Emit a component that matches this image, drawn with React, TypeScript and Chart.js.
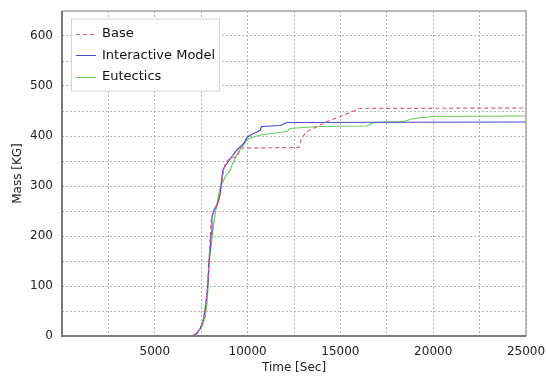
import React, { useEffect, useRef } from "react";
import { Chart, registerables } from "chart.js";

Chart.register(...registerables);

// ---- Data (Time [Sec], Mass [KG]) ----
const baseTime = [7000, 7250, 7450, 7600, 7700, 7780, 7850, 7920, 7980, 8040, 8190, 8400, 8530, 8600, 8700, 8800, 8900, 9070, 9460, 9610, 12750, 12930, 13200, 13700, 14280, 15000, 15530, 15980, 25000];
const baseMass = [0, 5, 15, 30, 50, 75, 100, 150, 195, 232, 250, 264, 285, 305, 330, 345, 350, 355, 359, 376, 377, 397, 409, 418, 429, 439, 447, 455, 456];

const interactiveTime = [7000, 7250, 7450, 7600, 7700, 7780, 7850, 7920, 7990, 8030, 8080, 8200, 8390, 8530, 8580, 8670, 8800, 9070, 9430, 9790, 9970, 10150, 10500, 10680, 10750, 11760, 12120, 25000];
const interactiveMass = [0, 5, 15, 30, 50, 75, 100, 150, 175, 205, 239, 253, 265, 285, 305, 332, 340, 355, 372, 385, 397, 402, 408, 412, 419, 421, 427, 428];

const eutecticsTime = [7000, 7270, 7540, 7720, 7810, 7870, 7940, 8030, 8130, 8260, 8350, 8490, 8620, 8800, 9070, 9160, 9350, 9520, 9790, 9970, 10300, 10680, 11500, 12120, 12300, 13000, 13900, 16430, 16790, 18400, 18950, 20030, 25000];
const eutecticsMass = [0, 5, 19, 39, 65, 99, 152, 179, 212, 245, 265, 292, 305, 319, 332, 342, 357, 369, 382, 393, 398, 402, 406, 409, 415, 417, 419, 420, 427, 429, 435, 439, 440];

const seriesLabels = ["Base", "Interactive Model", "Eutectics"];
const xTickStep = 2500;
const yTickStep = 50;

const toPoints = (xs: number[], ys: number[]) => xs.map((x, i) => ({ x, y: ys[i] }));

const FONT = "'DejaVu Sans', 'Lucida Sans', sans-serif";

const legendPlugin = {
  id: "insideLegend",
  afterDraw(chart: any) {
    const ctx = chart.ctx;
    const area = chart.chartArea;
    const bx = area.left + 9;
    const by = area.top + 7.5;
    const bw = 149;
    const bh = 73;
    ctx.save();
    ctx.fillStyle = "#ffffff";
    ctx.fillRect(bx, by, bw, bh);
    ctx.strokeStyle = "#d4d4d4";
    ctx.lineWidth = 1;
    ctx.strokeRect(bx + 0.5, by + 0.5, bw - 1, bh - 1);
    ctx.font = `13px ${FONT}`;
    ctx.textBaseline = "middle";
    chart.data.datasets.forEach((ds: any, i: number) => {
      const yy = by + 15 + i * 21.7;
      ctx.strokeStyle = ds.borderColor;
      ctx.lineWidth = 1;
      ctx.setLineDash(ds.borderDash || []);
      ctx.beginPath();
      ctx.moveTo(bx + 5, Math.round(yy) + 0.5);
      ctx.lineTo(bx + 25, Math.round(yy) + 0.5);
      ctx.stroke();
      ctx.setLineDash([]);
      ctx.fillStyle = "#111111";
      ctx.fillText(ds.label, bx + 31, yy);
    });
    ctx.restore();
  },
};

const borderPlugin = {
  id: "plotBorder",
  afterDatasetsDraw(chart: any) {
    const ctx = chart.ctx;
    const a = chart.chartArea;
    ctx.save();
    ctx.strokeStyle = "#a8a8a8";
    ctx.lineWidth = 1.5;
    ctx.beginPath();
    ctx.moveTo(a.left, a.top);
    ctx.lineTo(a.right, a.top);
    ctx.lineTo(a.right, a.bottom);
    ctx.stroke();
    ctx.strokeStyle = "#7a7a7a";
    ctx.lineWidth = 2;
    ctx.beginPath();
    ctx.moveTo(a.left, a.top);
    ctx.lineTo(a.left, a.bottom);
    ctx.lineTo(a.right, a.bottom);
    ctx.stroke();
    ctx.restore();
  },
};

export default function App() {
  const canvasRef = useRef<HTMLCanvasElement | null>(null);

  useEffect(() => {
    document.body.style.margin = "0";
    const canvas = canvasRef.current;
    if (!canvas) return;
    const chart = new Chart(canvas, {
      type: "line",
      data: {
        datasets: [
          {
            label: seriesLabels[0],
            data: toPoints(baseTime, baseMass),
            borderColor: "#d9607f",
            borderWidth: 1.2,
            borderDash: [4, 3],
            pointRadius: 0,
            tension: 0,
            fill: false,
          },
          {
            label: seriesLabels[1],
            data: toPoints(interactiveTime, interactiveMass),
            borderColor: "#4848c8",
            borderWidth: 1.2,
            pointRadius: 0,
            tension: 0,
            fill: false,
          },
          {
            label: seriesLabels[2],
            data: toPoints(eutecticsTime, eutecticsMass),
            borderColor: "#6ccc5c",
            borderWidth: 1.2,
            pointRadius: 0,
            tension: 0,
            fill: false,
          },
        ],
      },
      options: {
        responsive: false,
        animation: false,
        layout: { padding: 0 },
        plugins: {
          legend: { display: false },
          tooltip: { enabled: false },
        },
        scales: {
          x: {
            type: "linear",
            min: 0,
            max: 25000,
            afterFit: (scale: any) => {
              scale.height = 40;
              scale.paddingLeft = 0;
              scale.paddingRight = 20;
            },
            border: { display: false, dash: [2, 2] },
            grid: {
              color: "#b4b4b4",
              lineWidth: 1,
              drawTicks: false,
            },
            ticks: {
              stepSize: xTickStep,
              autoSkip: false,
              maxRotation: 0,
              padding: 9,
              color: "#222222",
              font: { family: FONT, size: 12 },
              callback: (v: any) => (v > 0 && v % 5000 === 0 ? String(v) : ""),
            },
            title: {
              display: true,
              text: "Time [Sec]",
              color: "#222222",
              font: { family: FONT, size: 12 },
              padding: { top: 0, bottom: 1 },
            },
          },
          y: {
            type: "linear",
            min: 0,
            max: 650,
            afterFit: (scale: any) => {
              scale.width = 62;
              scale.paddingTop = 11;
              scale.paddingBottom = 0;
            },
            border: { display: false, dash: [2, 2] },
            grid: {
              color: "#b4b4b4",
              lineWidth: 1,
              drawTicks: false,
            },
            ticks: {
              stepSize: yTickStep,
              autoSkip: false,
              padding: 9,
              color: "#222222",
              font: { family: FONT, size: 12 },
              callback: (v: any) => (v % 100 === 0 && v <= 600 ? String(v) : ""),
            },
            title: {
              display: true,
              text: "Mass [KG]",
              color: "#222222",
              font: { family: FONT, size: 12 },
              padding: { top: 11, bottom: 0 },
            },
          },
        },
      },
      plugins: [borderPlugin, legendPlugin],
    } as any);
    return () => chart.destroy();
  }, []);

  return (
    <div style={{ position: "fixed", left: 0, top: 0, width: 546, height: 376, background: "#ffffff" }}>
      <canvas ref={canvasRef} width={546} height={376} style={{ display: "block" }} />
    </div>
  );
}
